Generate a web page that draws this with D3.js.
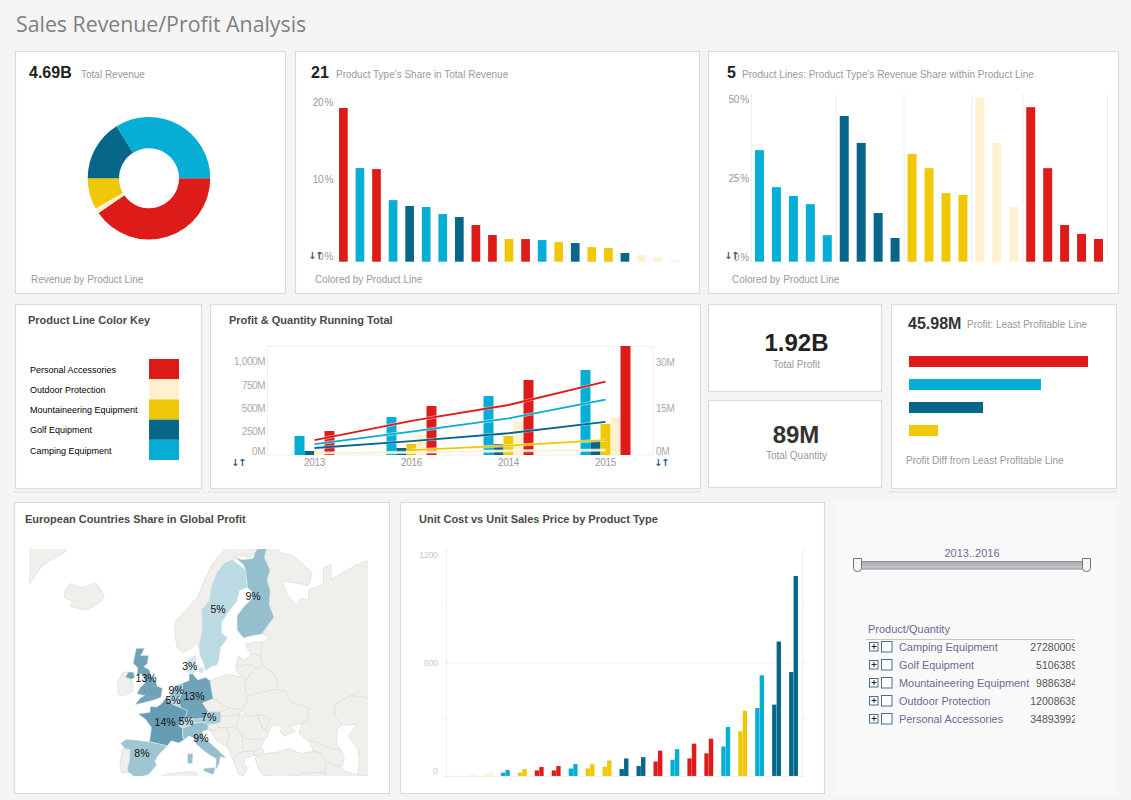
<!DOCTYPE html>
<html><head><meta charset="utf-8">
<script src="https://cdn.jsdelivr.net/npm/d3@7"></script>
<style>
html,body{margin:0;padding:0;background:#f5f5f5}
svg{display:block}
text{font-family:"Liberation Sans",Arial,sans-serif}
.big{font-weight:700;fill:#222}
.sub{fill:#999;font-size:10px}
.ttl{font-weight:700;fill:#4a4a4a;font-size:11px}
</style></head><body>
<svg id="c" width="1131" height="800"></svg>
<script>
// ---------- data ----------
const lineNames = ["Personal Accessories","Outdoor Protection","Mountaineering Equipment","Golf Equipment","Camping Equipment"];
const lineKeys = ["r","k","y","d","c"];
const lineColors = ["#dd1c1a","#fff1d0","#f0c808","#086788","#06aed5"];

const donutKeys = ["r","k","y","d","c"];
const donutValues = [1.895,0.066,0.385,0.755,1.59];

const shareColors = ["r","c","r","c","d","c","c","d","r","r","y","r","c","y","d","y","y","d","k","k","k"];
const shareValues = [19.96,12.16,12.03,8.0,7.23,7.1,6.19,5.8,4.76,3.46,2.94,2.94,2.81,2.55,2.42,1.9,1.77,1.13,0.87,0.6,0.22];

const withinColors = ["c","c","c","c","c","d","d","d","d","y","y","y","y","k","k","k","r","r","r","r","r"];
const withinValues = [35.3,23.6,20.8,18.2,8.4,46.1,37.6,15.4,7.5,34.1,29.6,21.7,21.1,51.8,37.6,17.3,48.9,29.6,11.6,8.8,7.2];

const years = ["2013","2016","2014","2015"];
const barOrder = ["c","d","y","k","r"];
const barC = [204,407,632,911];
const barD = [43,75,118,150];
const barY = [null,118,204,332];
const barK = [60,214,354,407];
const barR = [257,525,804,1200];
const qtyR = [4.8,11,16.1,23.6];
const qtyC = [3.5,7.5,11.8,17.8];
const qtyD = [2.25,4.5,7,10.7];
const qtyY = [null,1.6,3,4.8];
const qtyK = [0.64,0.86,1.3,1.6];

const diffKeys = ["r","c","d","y"];
const diffValues = [179,132,74,29];

const unitColors = ["k","k","k","c","y","r","r","c","y","y","d","d","r","c","r","r","c","y","c","d","d"];
const unitCost = [2,4,12,18,18,30,30,40,40,49,37,53,77,86,93,120,156,236,359,377,549];
const unitPrice = [4,5,21,32,37,48,53,63,63,82,93,100,134,142,171,197,259,345,532,710,1056];

const tableNames = ["Camping Equipment","Golf Equipment","Mountaineering Equipment","Outdoor Protection","Personal Accessories"];
const tableQty = ["27280009","5106389","9886384","12008638","34893992"];

const mapLabels = [["9%",25.5,65],["5%",16.3,63.6],["3%",8.9,56],["13%",-2.6,54.3],["9%",5.3,52.4],["13%",10,51.46],["5%",4.5,50.8],["14%",2.4,47],["5%",7.9,47.1],["7%",13.9,47.9],["9%",11.8,44],["8%",-3.7,41]];
const sharedCountries = [
 ["Finland",9,[[[20.6,69.1],[23,68.3],[23.5,67.8],[24,66],[25.3,65.5],[25.2,64.8],[23,63.8],[21.3,62.8],[21.3,61],[23,60],[25.5,60.3],[27.8,60.5],[31,62.6],[29.8,64],[30,65.7],[29.2,66.8],[30,67.8],[28.5,69],[29,69.8],[27.5,70.1],[26,69.5],[25.5,68.9],[22.5,68.8]]]],
 ["Sweden",5,[[[11.2,59],[12.2,61],[12,63.5],[14,64.5],[14.5,66],[16,67.5],[18,68.5],[20,68.8],[23.5,67.8],[24,66],[22,65.7],[21.3,64.5],[19,63.2],[17.3,62],[17.2,60.7],[18.8,60],[17,58.7],[16.5,57],[16,56.2],[14.5,56],[13,55.4],[12.6,56.3],[11.5,57.7]]]],
 ["United Kingdom",13,[[[-5.2,58.6],[-3,58.6],[-4,57.6],[-2,57.6],[-2.2,56.5],[-3.2,56],[-1.7,55.5],[-1.2,54.5],[0,53.7],[0.3,53],[1.7,52.7],[1.3,51.2],[-1,50.7],[-3.5,50.3],[-5.5,50],[-4,51.2],[-3,51.5],[-5,51.8],[-4.2,52.8],[-3,53.4],[-3,54],[-3.6,54.9],[-5,54.8],[-4.8,55.8],[-6,56.5],[-5.5,57.8]],[[-8,54.4],[-7.3,55.2],[-6,55.2],[-5.5,54.4],[-6.5,54.1]]]],
 ["Denmark",3,[[[8.1,56.9],[10.5,57.7],[10.5,56.3],[10.8,55.5],[9.7,54.9],[8.7,54.9],[8.1,55.6]],[[11,55.7],[12.5,56],[12.3,55],[11.2,55.2]]]],
 ["Germany",13,[[[6.9,53.5],[8.7,53.9],[8.7,54.9],[9.7,54.9],[11,54],[13,54.4],[14.2,53.9],[14.7,52],[15,51],[12.2,50.3],[13.7,48.8],[13,47.6],[10.5,47.5],[7.6,47.6],[8.2,49],[6.4,49.5],[6,50.8],[7,52.2]]]],
 ["Netherlands",9,[[[4.2,52],[4.8,53],[6.9,53.5],[7,52.2],[6,50.8],[5.8,51.2],[3.5,51.4]]]],
 ["Belgium",5,[[[2.5,51.1],[3.5,51.4],[5.8,51.2],[6,50.8],[6.4,49.5],[4.5,50],[2.6,50.8]]]],
 ["France",14,[[[2.5,51.1],[4.5,50],[6.4,49.5],[8.2,49],[7.6,47.6],[6,46.3],[7,45.9],[7,44.2],[7.5,43.8],[6,43.1],[4,43.5],[3,42.5],[-1.7,43.3],[-1.2,46],[-2.8,47.5],[-4.7,48.4],[-1.6,48.7],[-1.5,49.7],[0.2,49.6],[1.5,50.2]]]],
 ["Italy",9,[[[7,45.9],[8.5,46.3],[10.5,46.8],[12.3,47],[13.7,46.5],[13.7,45.6],[12.3,45.3],[12.4,44.2],[13.6,43.5],[16,41.9],[18.5,40.1],[16.9,40.4],[16.6,39],[16,38],[15.7,38],[15.8,40],[14,40.8],[12.2,41.8],[10.5,42.9],[10,44],[8.7,44.4],[7.5,43.8],[7,44.2]],[[8.3,39],[9.6,39.1],[9.7,41],[8.3,41]],[[12.5,38],[15.6,38.2],[15.1,36.7],[12.5,37.5]]]],
 ["Switzerland",5,[[[6,46.3],[7.6,47.6],[9.6,47.5],[10.5,46.8],[8.5,46.3],[7,45.9]]]],
 ["Austria",7,[[[9.6,47.5],[10.5,47.5],[13,47.6],[13.7,48.8],[17,48.8],[17,47],[16,46.7],[13.7,46.5],[12.3,47],[10.5,46.8]]]],
 ["Spain",8,[[[-9.3,43],[-7.9,43.8],[-1.7,43.3],[3,42.5],[0.7,40.8],[-0.3,39.5],[0.2,38.7],[-2,36.7],[-5.5,36],[-6.4,36.8],[-7.4,37.2],[-7.5,38],[-7,39.5],[-6.8,41.8],[-8.2,42]]]]
];
const otherLand = [
 [[-45,75],[-20,75],[-21.5,71],[-24,69.5],[-30,68.2],[-33,66.5],[-45,60]],
 [[-24,65.5],[-22.5,66.4],[-20,66],[-18,66.1],[-16,66.5],[-14.5,65.8],[-13.7,65],[-15,64.3],[-18,63.5],[-20,63.6],[-22.5,63.9],[-22,64.5],[-24,64.9]],
 [[7,58],[5.5,58.8],[5,60.5],[5,62],[8,63.5],[11,65],[13,67],[15,68.5],[18,69.7],[22,70.5],[26,71],[31,70.3],[29,69.2],[26,69.8],[25,69],[21,69.2],[20,68.5],[18,68.5],[16,67.5],[14.5,66],[14,64.5],[12,63.5],[12.2,61],[11.5,59],[10.5,59.3],[9,58.5]],
 [[29,69.8],[31,70],[33,69.4],[36,69.2],[41,67.5],[40,66.2],[35,66.6],[33,66.7],[34.8,65],[37,64],[38,64.8],[40,64.6],[40.2,65.8],[44,66.2],[44,68],[46,68.3],[46,66.8],[54,68.5],[60,69],[70,70],[70,50],[61,50.5],[51,51.5],[47,50],[47,48],[49,46.5],[47.5,45.5],[47.5,43],[48.5,41.8],[46,42],[42,43.3],[40,43.5],[37.5,45],[38.5,46.8],[39.8,47.3],[40,49.5],[35.5,50.4],[34,52.3],[31.5,52.5],[32,53.7],[31,55],[28,56],[27.5,57.5],[27.8,59.3],[30,60],[28,60.5],[31,62.6],[29.8,64],[30,65.7],[29.2,66.8],[30,67.8],[28.5,69]],
 [[47,48],[47,50],[51,51.5],[61,50.5],[70,50],[70,36],[53,36.5],[53.5,40],[53,42],[50.5,44.5],[53,46.5],[49,46.5]],
 [[44.5,39.5],[48,38.5],[49.5,37.5],[53,36.7],[60,36],[60,30],[44,30],[44.5,37]],
 [[40,43.5],[42,43.3],[46,42],[48.5,41.8],[49.5,40.5],[49,38.5],[48,38.5],[44.5,39.5],[43.5,41],[41.5,41.5]],
 [[26,40.2],[29,41.1],[31.5,41.2],[35,42],[38,41],[41.5,41.5],[43.5,41],[44.5,39.5],[44.5,37],[42,37.2],[38,36.8],[36,36.3],[35,36.7],[33,36.1],[30.5,36.3],[28,36.7],[27.3,37.5],[26.5,39]],
 [[36,36.3],[38,36.8],[42,37.2],[44.5,37],[44,30],[34,30],[35,33],[35.9,35.5]],
 [[-6,35.8],[-2,35.2],[3,36.9],[9.8,37.3],[11,37],[10.5,34],[15,32],[20,32],[30,31],[-6,30]],
 [[-10,52],[-10,54],[-8.5,55.2],[-7.3,55.2],[-8,54.4],[-6.5,54.1],[-6,53.3],[-6.3,52.2],[-8.5,51.5],[-10,51.7]],
 [[-8.8,42],[-6.8,41.8],[-7,39.5],[-7.5,38],[-7.4,37.2],[-9,37],[-9.5,38.7]],
 [[14.2,53.9],[18.5,54.8],[23,54.4],[24,52.5],[24,50.5],[22.7,49.2],[19,49.4],[15,51],[14.7,52]],
 [[12.2,50.3],[15,51],[19,49.4],[17,48.8],[13.7,48.8]],
 [[17,48.8],[19,49.4],[22.5,49.1],[22,48.4],[19,48],[17,48]],
 [[17,48],[19,48],[22,48.4],[21,46.2],[18.8,45.9],[16.5,46],[16,46.7],[17,47]],
 [[22,48.4],[24,48],[26.5,48.2],[28.2,45.6],[29.7,45],[28.6,43.8],[25,43.7],[22.7,44.2],[21,46.2]],
 [[22.7,44.2],[25,43.7],[28.6,43.8],[27.6,42.3],[26,41.5],[22.8,41.4]],
 [[20.3,39.7],[21,40.8],[22.8,41.4],[26,41.5],[26,40.7],[23.8,40.2],[23,39],[24,38],[23,36.5],[21.7,36.8],[21,38.3]],
 [[26,41.5],[27.6,42.3],[28.5,41.4],[27,40.7],[26,40.7]],
 [[13.7,45.6],[13.7,46.5],[16,46.7],[16.5,46],[15.2,45.4]],
 [[13.7,45.6],[15.2,45.4],[16.5,46],[18.8,45.9],[19.3,44.3],[18.5,42.5],[16,43.5],[14.5,45.2]],
 [[18.8,45.9],[21,46.2],[22.7,44.2],[22.8,41.4],[21,40.8],[20.3,39.7],[19.3,41.5],[18.5,42.5],[19.3,44.3]],
 [[22.7,49.2],[24,50.5],[24,51.5],[31.5,52.5],[34,52.3],[35.5,50.4],[40,49.5],[39.8,47.3],[38.5,46.8],[35,46.2],[36.5,45.3],[33.5,44.4],[32.5,45.4],[33.5,46],[30.8,46.5],[29.7,45.3],[28.2,45.6],[26.5,48.2],[24,48],[22.5,49.1]],
 [[26.6,48.3],[29,48],[30,46.5],[28.2,45.6]],
 [[23.5,52],[24,51.5],[31.5,52.5],[32,53.7],[31,55],[28,56],[26,55.7],[23.5,54]],
 [[21,56],[21.2,55.2],[23,54.4],[23.5,54],[26,55.7],[25,56.4]],
 [[21,56],[25,56.4],[26,55.7],[28,56],[27.5,57.5],[25,58],[24.3,57.2],[23,57],[21.7,57.5]],
 [[23.5,59.2],[28,59.5],[27.5,57.5],[25,58],[24.3,58.3]]
];

// ---------- helpers ----------
const col = d3.scaleOrdinal().domain(lineKeys).range(lineColors);
const svg = d3.select("#c");
const defs = svg.append("defs");
function panel(x,y,w,h,fill="#fff",stroke="#dcdcdc"){
  svg.append("rect").attr("x",x+.5).attr("y",y+.5).attr("width",w).attr("height",h)
    .attr("fill",fill).attr("stroke",stroke).attr("stroke-width",1.2);
}
function txt(x,y,s,cls,size,anchor){
  const t = svg.append("text").attr("x",x).attr("y",y).text(s);
  if(cls) t.attr("class",cls);
  if(size) t.style("font-size",size+"px");
  if(anchor) t.attr("text-anchor",anchor);
  return t;
}
function clip(id,x,y,w,h){
  defs.append("clipPath").attr("id",id).append("rect").attr("x",x).attr("y",y).attr("width",w).attr("height",h);
  return `url(#${id})`;
}
function arrows(x,y){
  svg.append("text").attr("x",x).attr("y",y).text("↓↑").style("font-family","'DejaVu Sans'")
    .style("font-size","10px").style("font-weight","700").attr("fill","#2a5f8a").style("letter-spacing","-1.5px");
}
function hline(x1,x2,y){
  svg.append("line").attr("x1",x1).attr("x2",x2).attr("y1",y).attr("y2",y).attr("stroke","#dcdcdc").attr("stroke-width",1.2);
}
function leftAxis(scale,x,vals,fmt,nudge,size,color){
  const g = svg.append("g").attr("transform",`translate(${x},0)`)
    .call(d3.axisLeft(scale).tickValues(vals).tickFormat(fmt).tickSize(0).tickPadding(0));
  g.select(".domain").remove();
  g.selectAll("text").attr("dy","0.32em").attr("transform",d=>`translate(0,${nudge(d)})`)
    .style("font-size",size+"px").style("fill",color).style("letter-spacing","-.35px").style("word-spacing","-1.2px");
  return g;
}

// ---------- page ----------
svg.append("text").attr("x",16).attr("y",32).text("Sales Revenue/Profit Analysis")
  .style("font-family","'Open Sans'").style("font-size","21.3px").attr("fill","#808080");

panel(15,51,270,242); panel(295,51,404,242); panel(708,51,410,242);
panel(15,304,186,184); panel(210,304,490,184);
panel(708,304,173,87); panel(708,400,173,87); panel(891,304,225,184);
hline(13,200,492); hline(208,700,492); hline(889,1116,492);
panel(14,502,375,291); panel(400,502,424,291);
svg.append("rect").attr("x",835).attr("y",501).attr("width",282).attr("height",294).attr("fill","#f9f9fa");

// ---------- revenue donut ----------
txt(29,78,"4.69B","big",16);
txt(81,78,"Total Revenue","sub");
txt(31,283,"Revenue by Product Line","sub");
const pie = d3.pie().sort(null).startAngle(Math.PI/2).endAngle(Math.PI*2.5);
const arc = d3.arc().innerRadius(30).outerRadius(61.3);
svg.append("g").attr("transform","translate(149,178.3)").selectAll("path")
  .data(pie(donutValues)).join("path").attr("d",arc).attr("fill",(d,i)=>col(donutKeys[i]));

// ---------- type share ----------
txt(311,78,"21","big",16);
txt(336,78,"Product Type's Share in Total Revenue","sub");
txt(315,283,"Colored by Product Line","sub");
const sx = d3.scaleBand().domain(d3.range(shareValues.length)).range([335.1,682.9]).paddingInner(.475).paddingOuter(.2375);
const sy = d3.scaleLinear().domain([0,20]).range([261.7,107.7]);
svg.append("g").selectAll("rect").data(shareValues).join("rect")
  .attr("x",(d,i)=>sx(i)).attr("width",sx.bandwidth()).attr("y",d=>sy(d)).attr("height",d=>sy(0)-sy(d))
  .attr("fill",(d,i)=>col(shareColors[i]));
leftAxis(sy,333,[0,10,20],d=>d+" %",()=>-5,10,"#999");
arrows(308,259);

// ---------- within line ----------
txt(727,78,"5","big",16);
txt(742,78,"Product Lines: Product Type's Revenue Share within Product Line","sub");
txt(732,283,"Colored by Product Line","sub");
const wx = d3.scaleBand().domain(d3.range(withinValues.length)).range([751,1107]).paddingInner(.47).paddingOuter(.235);
const wy = d3.scaleLinear().domain([0,50]).range([261.7,103.7]);
const dividers = d3.range(withinValues.length+1).filter(i=>i===0||i===withinValues.length||withinColors[i]!==withinColors[i-1]);
svg.append("g").selectAll("line").data(dividers).join("line")
  .attr("x1",i=>wx.range()[0]+i*wx.step()+.5).attr("x2",i=>wx.range()[0]+i*wx.step()+.5)
  .attr("y1",94).attr("y2",262).attr("stroke","#eeeeee");
svg.append("g").selectAll("rect").data(withinValues).join("rect")
  .attr("x",(d,i)=>wx(i)).attr("width",wx.bandwidth()).attr("y",d=>wy(d)).attr("height",d=>wy(0)-wy(d))
  .attr("fill",(d,i)=>col(withinColors[i]));
leftAxis(wy,748.7,[0,25,50],d=>d+" %",()=>-4,10,"#999");
arrows(724,259);

// ---------- colour key ----------
txt(28,323.5,"Product Line Color Key","ttl");
const ky = d3.scaleBand().domain(lineNames).range([359,460]);
svg.append("g").selectAll("rect").data(lineNames).join("rect")
  .attr("x",149).attr("width",30).attr("y",d=>ky(d)).attr("height",ky.bandwidth())
  .attr("fill",(d,i)=>lineColors[i]);
svg.append("g").selectAll("text").data(lineNames).join("text")
  .attr("x",30).attr("y",d=>ky(d)+ky.bandwidth()/2+3.6).text(d=>d)
  .style("font-size","9px").attr("fill","#000");

// ---------- running total ----------
txt(229,324,"Profit & Quantity Running Total","ttl");
const rx = d3.scaleBand().domain(years).range([266,654]);
const ry = d3.scaleLinear().domain([0,1165]).range([455,346.3]);
const qy = d3.scaleLinear().domain([0,35]).range([455,346.3]);
svg.append("rect").attr("x",267.5).attr("y",346.5).attr("width",385.5).attr("height",108.5).attr("fill","none").attr("stroke","#eeeeee");
const barSeries = {c:barC,d:barD,y:barY,k:barK,r:barR};
const rClip = clip("rc",267,346,386,109);
years.forEach((yr,i)=>{
  const present = barOrder.filter(k=>barSeries[k][i]!=null);
  const inner = d3.scaleBand().domain(present).range([-present.length*5,present.length*5]);
  svg.append("g").attr("clip-path",rClip).selectAll("rect").data(present).join("rect")
    .attr("x",k=>rx(yr)+rx.bandwidth()/2+inner(k)).attr("width",inner.bandwidth())
    .attr("y",k=>ry(barSeries[k][i])).attr("height",k=>ry(0)-ry(barSeries[k][i])).attr("fill",k=>col(k));
});
const qtySeries = [["k",qtyK],["y",qtyY],["d",qtyD],["c",qtyC],["r",qtyR]];
const qLine = d3.line().defined(d=>d[1]!=null).x(d=>rx(d[0])+rx.bandwidth()/2).y(d=>qy(d[1]));
qtySeries.forEach(([k,vals])=>{
  const pts = years.map((y,i)=>[y,vals[i]]);
  svg.append("path").attr("d",qLine(pts)).attr("fill","none").attr("stroke","#fff").attr("stroke-width",3.2).attr("stroke-opacity",.55);
  svg.append("path").attr("d",qLine(pts)).attr("fill","none").attr("stroke",col(k)).attr("stroke-width",1.8);
});
leftAxis(ry,265.3,[0,250,500,750,1000],d=>d3.format(",")(d)+"M",d=>d===0?-4:0,10,"#aaa");
const rAxis = svg.append("g").attr("transform","translate(656,0)")
  .call(d3.axisRight(qy).tickValues([0,15,30]).tickFormat(d=>d+"M").tickSize(0).tickPadding(0));
rAxis.select(".domain").remove();
rAxis.selectAll("text").attr("dy","0.32em").attr("transform",d=>`translate(0,${d===0?-4:0})`).style("font-size","10px").style("letter-spacing","-.35px").style("fill","#aaa");
const xAxis = svg.append("g").attr("transform","translate(0,458.5)")
  .call(d3.axisBottom(rx).tickSize(0).tickPadding(0));
xAxis.select(".domain").remove();
xAxis.selectAll("text").attr("dy","0.71em").style("font-size","10px").style("letter-spacing","-.35px").style("fill","#999");
arrows(231,465.5); arrows(654,465.5);

// ---------- KPIs ----------
txt(796.5,351,"1.92B","big",24,"middle");
txt(796.5,368,"Total Profit","sub",null,"middle");
txt(796,443,"89M","big",24,"middle").style("fill","#333");
txt(796.5,459,"Total Quantity","sub",null,"middle");

// ---------- least profitable ----------
txt(908,329,"45.98M","big",16).style("fill","#333");
txt(967,328,"Profit: Least Profitable Line","sub");
txt(906,464,"Profit Diff from Least Profitable Line","sub");
const dy = d3.scaleBand().domain(diffKeys).range([350,442]).paddingInner(.52).paddingOuter(.26);
const dx = d3.scaleLinear().domain([0,179]).range([909,1088]);
svg.append("g").selectAll("rect").data(diffValues).join("rect")
  .attr("x",dx(0)).attr("y",(d,i)=>dy(diffKeys[i])).attr("height",dy.bandwidth())
  .attr("width",d=>dx(d)-dx(0)).attr("fill",(d,i)=>col(diffKeys[i]));

// ---------- map ----------
txt(25,523,"European Countries Share in Global Profit","ttl");
const proj = d3.geoMercator().scale(218).translate([156,925]).precision(.1);
const geo = d3.geoPath(proj);
// d3-geo needs rings clockwise as seen on the map; d3.polygonArea is positive for those in lon/lat
const poly = rings => ({type:"MultiPolygon",coordinates:rings.map(r=>{
  const c=r.concat([r[0]]);
  return [d3.polygonArea(r)<0?c.slice().reverse():c];
})});
const mapClip = clip("mc",29,549,339,227);
const mapG = svg.append("g").attr("clip-path",mapClip);
mapG.selectAll("path.o").data(otherLand).join("path").attr("class","o")
  .attr("d",r=>geo(poly([r]))).attr("fill","#f1efeb").attr("stroke","#e0e0dc").attr("stroke-width",.9).attr("stroke-linejoin","round");
const shade = d3.scaleLinear().domain([3,14]).range(["#cfe8ee","#669cb3"]);
mapG.selectAll("path.s").data(sharedCountries).join("path").attr("class","s")
  .attr("d",d=>geo(poly(d[2]))).attr("fill",d=>shade(d[1])).attr("stroke","#e4eef1").attr("stroke-width",.5).attr("stroke-linejoin","round");
svg.append("g").selectAll("text").data(mapLabels).join("text")
  .attr("x",d=>proj([d[1],d[2]])[0]).attr("y",d=>proj([d[1],d[2]])[1]+3.8).attr("text-anchor","middle")
  .text(d=>d[0]).style("font-size","10.5px").attr("fill","#111");

// ---------- unit cost ----------
txt(419,523,"Unit Cost vs Unit Sales Price by Product Type","ttl");
const ux = d3.scaleBand().domain(d3.range(unitCost.length)).range([446,802]).paddingInner(.47).paddingOuter(.235);
const uy = d3.scaleLinear().domain([0,1200]).range([776,548.7]);
const uGrid = svg.append("g").attr("stroke","#eeeeee");
uGrid.selectAll("line.g").data([0,600]).join("line").attr("class","g")
  .attr("x1",446.5).attr("x2",802.5).attr("y1",d=>uy(d)+.5).attr("y2",d=>uy(d)+.5);
[446.5,802.5].forEach(x=>uGrid.append("line").attr("x1",x).attr("x2",x).attr("y1",uy(1200)).attr("y2",uy(0)));
uGrid.selectAll("line.t").data([0,300,600,900,1200]).join("line").attr("class","t")
  .attr("x1",443.5).attr("x2",446.5).attr("y1",d=>uy(d)+.5).attr("y2",d=>uy(d)+.5);
uGrid.selectAll("line.u").data([0,300,600,900,1200]).join("line").attr("class","u")
  .attr("x1",802.5).attr("x2",805.5).attr("y1",d=>uy(d)+.5).attr("y2",d=>uy(d)+.5);
const uw = ux.bandwidth()/2;
[unitCost,unitPrice].forEach((vals,s)=>{
  svg.append("g").selectAll("rect").data(vals).join("rect")
    .attr("x",(d,i)=>ux(i)+s*uw).attr("width",uw).attr("y",d=>uy(d)).attr("height",d=>uy(0)-uy(d))
    .attr("fill",(d,i)=>col(unitColors[i])).attr("stroke","#fff").attr("stroke-opacity",.22).attr("stroke-width",.5);
});
leftAxis(uy,437.7,[0,600,1200],d=>d3.format("")(d),d=>d===0?-5:d===1200?5.5:0,9,"#c9c9c9");

// ---------- selection panel ----------
const grad = defs.append("linearGradient").attr("id","sl").attr("x1",0).attr("x2",0).attr("y1",0).attr("y2",1);
grad.append("stop").attr("offset",0).attr("stop-color","#a9a9b2");
grad.append("stop").attr("offset",1).attr("stop-color","#c9c9d2");
txt(972,556.5,"2013..2016",null,11,"middle").attr("fill","#6b6b95");
svg.append("rect").attr("x",860).attr("y",561.5).attr("width",225).attr("height",7.5).attr("fill","url(#sl)").attr("stroke","#8f8f96");
[853.5,1082.5].forEach(x=>svg.append("path")
  .attr("d",`M${x},558.5h8v10q0,3,-4,3q-4,0,-4,-3z`).attr("fill","#f6f6f6").attr("stroke","#777"));
txt(868,632.5,"Product/Quantity",null,11).attr("fill","#6b6b95");
svg.append("line").attr("x1",866).attr("x2",1075).attr("y1",639.5).attr("y2",639.5).attr("stroke","#c4c4c4");
const ty = d3.scaleBand().domain(tableNames).range([638,728]);
const tClip = clip("tc",1000,638,75,92);
const rows = svg.append("g").selectAll("g").data(tableNames).join("g")
  .attr("transform",d=>`translate(0,${ty(d)+ty.bandwidth()/2})`);
rows.append("rect").attr("x",869.5).attr("y",-4.5).attr("width",8.5).attr("height",8.5).attr("fill","#fff").attr("stroke","#44708f");
rows.append("path").attr("d","M871.5,-.5h5M874,-3v5").attr("stroke","#222").attr("fill","none");
rows.append("rect").attr("x",881.5).attr("y",-5.5).attr("width",10.5).attr("height",10.5).attr("fill","#fff").attr("stroke","#44708f");
rows.append("text").attr("x",899).attr("y",3.5).text(d=>d).style("font-size","10.9px").attr("fill","#6b6b95");
svg.append("g").attr("clip-path",tClip).selectAll("text").data(tableNames).join("text")
  .attr("x",1077).attr("y",d=>ty(d)+ty.bandwidth()/2+3.5).attr("text-anchor","end")
  .text((d,i)=>tableQty[i]).style("font-size","10.5px").attr("fill","#555");
</script>
</body></html>
